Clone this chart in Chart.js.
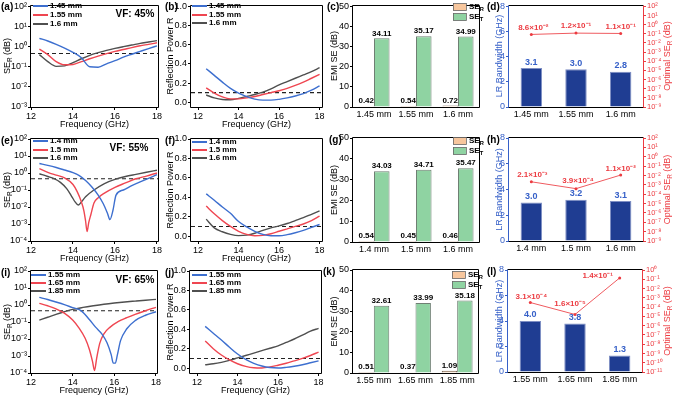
<!DOCTYPE html>
<html>
<head>
<meta charset="utf-8">
<script src="https://cdn.jsdelivr.net/npm/chart.js@4.4.0/dist/chart.umd.min.js"></script>
<style>
  html, body { margin: 0; padding: 0; background: #fff; }
  #wrap { position: relative; width: 673px; height: 396px; overflow: hidden; }
  #wrap canvas { position: absolute; left: 0; top: 0; }
</style>
</head>
<body>
<div id="wrap"></div>
<script>
// ---------- data ----------
const freqTicks = [12, 14, 16, 18];
const rTicks = [0, 0.2, 0.4, 0.6, 0.8, 1.0];
const emiTicks = [0, 10, 20, 30, 40, 50];
const bwTicks = [0, 2, 4, 6, 8];
const seThreshold = 0.458;   // SE_R that matches R = 0.1
const rThreshold = 0.1;

const fGrid = [12.4, 12.8, 13.2, 13.6, 14.0, 14.4, 14.8, 15.2, 15.6, 16.0, 16.4, 16.8, 17.2, 17.6, 18.0];

// VF 45 %
const labels45 = ['1.45 mm', '1.55 mm', '1.6 mm'];
const se45_145 = [2.6, 1.9, 1.3, 0.85, 0.52, 0.28, 0.1, 0.095, 0.14, 0.2, 0.3, 0.42, 0.58, 0.8, 1.1];
const se45_155 = [0.75, 0.4, 0.18, 0.125, 0.13, 0.18, 0.25, 0.34, 0.45, 0.58, 0.72, 0.9, 1.1, 1.3, 1.55];
const se45_160 = [0.4, 0.18, 0.105, 0.11, 0.16, 0.25, 0.37, 0.5, 0.65, 0.82, 1.0, 1.2, 1.45, 1.7, 2.0];
const r45_145 = [0.35, 0.28, 0.21, 0.145, 0.095, 0.058, 0.032, 0.022, 0.022, 0.03, 0.045, 0.065, 0.09, 0.125, 0.17];
const r45_155 = [0.15, 0.095, 0.055, 0.035, 0.035, 0.045, 0.06, 0.08, 0.1, 0.12, 0.145, 0.175, 0.21, 0.25, 0.29];
const r45_160 = [0.075, 0.045, 0.028, 0.025, 0.04, 0.06, 0.08, 0.105, 0.14, 0.18, 0.215, 0.25, 0.285, 0.32, 0.36];
const serBar45 = [0.42, 0.54, 0.72];
const setBar45 = [34.11, 35.17, 34.99];
const bw45 = [3.1, 3.0, 2.8];
const opt45 = [8.6e-2, 1.2e-1, 1.1e-1];

// VF 55 %
const labels55 = ['1.4 mm', '1.5 mm', '1.6 mm'];
const f55_14 = [12.4, 12.8, 13.2, 13.6, 14.0, 14.3, 14.6, 14.9, 15.2, 15.45, 15.65, 15.76, 15.9, 16.05, 16.4, 16.8, 17.2, 17.6, 18.0];
const se55_14 = [3.6, 2.8, 2.1, 1.5, 1.05, 0.7, 0.36, 0.15, 0.05, 0.015, 0.004, 0.0018, 0.006, 0.05, 0.1, 0.18, 0.3, 0.48, 0.8];
const f55_15 = [12.4, 12.8, 13.2, 13.6, 14.0, 14.2, 14.4, 14.52, 14.6, 14.67, 14.75, 14.85, 15.0, 15.2, 15.5, 16.0, 16.5, 17.0, 17.5, 18.0];
const se55_15 = [1.8, 1.1, 0.75, 0.52, 0.21, 0.08, 0.02, 0.006, 0.0015, 0.00036, 0.0012, 0.0035, 0.017, 0.035, 0.066, 0.145, 0.26, 0.46, 0.66, 1.0];
const f55_16 = [12.4, 12.8, 13.1, 13.4, 13.7, 13.95, 14.1, 14.25, 14.4, 14.6, 15.0, 15.5, 16.0, 16.5, 17.0, 17.5, 18.0];
const se55_16 = [0.9, 0.62, 0.46, 0.28, 0.12, 0.04, 0.02, 0.013, 0.02, 0.04, 0.1, 0.24, 0.42, 0.62, 0.83, 1.1, 1.45];
const r55_14 = [0.435, 0.37, 0.3, 0.235, 0.15, 0.095, 0.05, 0.018, 0.004, 0.004, 0.015, 0.035, 0.06, 0.09, 0.12];
const r55_15 = [0.31, 0.23, 0.16, 0.1, 0.05, 0.018, 0.004, 0.008, 0.025, 0.05, 0.075, 0.1, 0.125, 0.16, 0.205];
const r55_16 = [0.175, 0.085, 0.045, 0.018, 0.005, 0.01, 0.03, 0.06, 0.085, 0.105, 0.13, 0.16, 0.19, 0.225, 0.26];
const serBar55 = [0.54, 0.45, 0.46];
const setBar55 = [34.03, 34.71, 35.47];
const bw55 = [3.0, 3.2, 3.1];
const opt55 = [2.1e-3, 3.9e-4, 1.1e-2];

// VF 65 %
const labels65 = ['1.55 mm', '1.65 mm', '1.85 mm'];
const f65_155 = [12.4, 12.8, 13.2, 13.6, 14.0, 14.4, 14.8, 15.1, 15.4, 15.65, 15.85, 15.95, 16.05, 16.15, 16.3, 16.6, 17.0, 17.5, 18.0];
const se65_155 = [2.8, 2.1, 1.5, 1.05, 0.7, 0.47, 0.14, 0.05, 0.02, 0.006, 0.0012, 0.00038, 0.00038, 0.0012, 0.008, 0.04, 0.12, 0.25, 0.4];
const f65_165 = [12.4, 12.8, 13.2, 13.6, 14.0, 14.3, 14.6, 14.8, 14.95, 15.05, 15.15, 15.3, 15.5, 15.8, 16.2, 16.6, 17.0, 17.5, 18.0];
const se65_165 = [1.25, 0.9, 0.6, 0.33, 0.13, 0.045, 0.011, 0.0025, 0.0005, 0.00014, 0.0007, 0.0055, 0.02, 0.05, 0.11, 0.18, 0.28, 0.46, 0.73];
const f65_185 = [12.4, 12.8, 13.2, 13.6, 14.0, 14.5, 15.0, 15.5, 16.0, 16.5, 17.0, 17.5, 18.0];
const se65_185 = [0.13, 0.19, 0.28, 0.4, 0.55, 0.72, 0.9, 1.1, 1.3, 1.5, 1.7, 1.92, 2.15];
const r65_155 = [0.43, 0.36, 0.29, 0.215, 0.145, 0.09, 0.05, 0.022, 0.006, 0.001, 0.008, 0.02, 0.035, 0.055, 0.075];
const r65_165 = [0.28, 0.2, 0.135, 0.085, 0.045, 0.018, 0.004, 0.002, 0.012, 0.03, 0.05, 0.075, 0.1, 0.13, 0.165];
const r65_185 = [0.035, 0.045, 0.06, 0.08, 0.105, 0.13, 0.155, 0.18, 0.205, 0.23, 0.265, 0.3, 0.34, 0.38, 0.41];
const serBar65 = [0.51, 0.37, 1.09];
const setBar65 = [32.61, 33.99, 35.18];
const bw65 = [4.0, 3.8, 1.3];
const opt65 = [3.1e-4, 1.6e-5, 1.4e-1];

// ---------- helpers ----------
const W = 673, H = 396;
const XH = 14, YW = 26, RW = 30;
const FONT = "'Liberation Sans', Arial, sans-serif";
const LINE_COLORS = ['#3d6fcf', '#ef4651', '#4f4f4f'];

const SUP = {'0': '⁰', '1': '¹', '2': '²', '3': '³', '4': '⁴', '5': '⁵', '6': '⁶', '7': '⁷', '8': '⁸', '9': '⁹', '-': '⁻'};
const sup = n => String(n).split('').map(c => SUP[c]).join('');
const pow10 = v => '10' + sup(Math.round(Math.log10(v)));
const sci = v => {
  const e = Math.floor(Math.log10(v) + 1e-9);
  return (v / Math.pow(10, e)).toFixed(1) + '×10' + sup(e);
};
const decades = (lo, hi) => { const t = []; for (let e = hi; e >= lo; e--) t.push({value: Math.pow(10, e)}); return t; };

// "SE_{R} (dB)" -> pieces with subscript / superscript
function parseRich(str) {
  const out = [], re = /([_^])\{([^}]*)\}|([^_^]+)/g;
  let m;
  while ((m = re.exec(str))) out.push(m[3] ? {t: m[3], k: ''} : {t: m[2], k: m[1]});
  return out;
}
function drawRich(ctx, o) {
  const size = o.size || 9, weight = o.bold ? 'bold ' : '';
  const parts = parseRich(o.text);
  const fontFor = k => weight + (k ? size * 0.72 : size) + 'px ' + FONT;
  let w = 0;
  parts.forEach(p => { ctx.font = fontFor(p.k); p.w = ctx.measureText(p.t).width; w += p.w; });
  ctx.save();
  ctx.translate(o.x, o.y);
  if (o.rot) ctx.rotate(o.rot);
  ctx.fillStyle = o.color || '#000';
  ctx.textBaseline = 'middle';
  let x = o.align === 'left' ? 0 : o.align === 'right' ? -w : -w / 2;
  parts.forEach(p => {
    ctx.font = fontFor(p.k);
    const dy = p.k === '_' ? size * 0.3 : p.k === '^' ? -size * 0.35 : 0;
    ctx.fillText(p.t, x, dy);
    x += p.w;
  });
  ctx.restore();
}

const decor = {
  id: 'decor',
  afterDatasetsDraw(chart) {
    const ctx = chart.ctx;
    chart.data.datasets.forEach((ds, i) => {
      if (!ds.valueFmt) return;
      chart.getDatasetMeta(i).data.forEach((el, j) => {
        const off = (ds.valueOffsets || [])[j] || [0, -5];
        drawRich(ctx, {text: ds.valueFmt(ds.data[j]), x: el.x + off[0], y: el.y + off[1],
          size: ds.valueSize || 8, bold: true, color: ds.valueColor || '#000'});
      });
    });
  },
  afterDraw(chart, args, o) {
    const ctx = chart.ctx, a = chart.chartArea;
    const fr = Object.assign({left: '#000', right: '#000', top: '#000', bottom: '#000'}, o.frame || {});
    const L = Math.round(a.left) - 0.5, R = Math.round(a.right) + 0.5, T = Math.round(a.top) - 0.5, B = Math.round(a.bottom) + 0.5;
    ctx.save();
    ctx.lineWidth = 1;
    const seg = (x1, y1, x2, y2, c) => { ctx.strokeStyle = c; ctx.beginPath(); ctx.moveTo(x1, y1); ctx.lineTo(x2, y2); ctx.stroke(); };
    seg(L, T, R, T, fr.top);
    seg(L, B, R, B, fr.bottom);
    seg(L, T, L, B, fr.left);
    seg(R, T, R, B, fr.right);
    ctx.restore();

    const lg = o.legend;
    if (lg) {
      let k = 0;
      chart.data.datasets.forEach(ds => {
        if (!ds.legendText) return;
        const y = lg.ys[k++];
        ctx.save();
        if (lg.kind === 'box') {
          ctx.fillStyle = ds.backgroundColor;
          ctx.fillRect(lg.x, y - 3.5, 13, 7);
          ctx.strokeStyle = '#666';
          ctx.lineWidth = 0.8;
          ctx.strokeRect(lg.x + 0.5, y - 3.5, 13, 7);
          ctx.restore();
          drawRich(ctx, {text: ds.legendText, x: lg.x + 16, y: y, size: 8, bold: true, align: 'left'});
        } else {
          ctx.strokeStyle = ds.borderColor;
          ctx.lineWidth = 2;
          ctx.beginPath(); ctx.moveTo(lg.x, y); ctx.lineTo(lg.x + lg.len, y); ctx.stroke();
          ctx.restore();
          drawRich(ctx, {text: ds.legendText, x: lg.x + lg.len + 2, y: y, size: 8, bold: true, align: 'left'});
        }
      });
    }
    (o.texts || []).forEach(t => drawRich(ctx, t));
  }
};
Chart.register(decor);

function newCtx() {
  const c = document.createElement('canvas');
  c.width = W; c.height = H;
  document.getElementById('wrap').appendChild(c);
  return c.getContext('2d');
}
function padFor(rect, rightW) {
  return {left: rect[0] - YW, top: rect[1], right: W - rect[2] - (rightW || 0), bottom: H - rect[3] - XH};
}
const tickGrid = c => ({drawOnChartArea: false, drawTicks: true, tickLength: 3, color: c || '#000', lineWidth: 1});
const noGrid = {display: false, drawTicks: false, tickLength: 0};
const baseOpts = {responsive: false, animation: false, devicePixelRatio: 1, events: []};

function panelTexts(p) {
  const [l, t, r, b] = p.rect;
  const out = [
    {text: p.tag, x: p.tagX, y: t + 2, size: 10, bold: true, align: 'left'},
    {text: p.yTitle, x: p.yTitleX, y: (t + b) / 2, size: 9, rot: -Math.PI / 2, color: p.yTitleColor}
  ];
  if (p.xTitle) out.push({text: p.xTitle, x: (l + r) / 2, y: b + 18, size: 9});
  return out.concat(p.extra || []);
}

function linePanel(p) {
  const datasets = p.series.map((s, i) => ({
    legendText: p.names[i],
    data: s.x.map((x, j) => ({x: x, y: s.y[j]})),
    borderColor: LINE_COLORS[i], borderWidth: 1.4, pointRadius: 0,
    cubicInterpolationMode: 'monotone', fill: false
  }));
  datasets.push({
    data: [{x: p.xMin, y: p.thr}, {x: p.xMax, y: p.thr}],
    borderColor: '#222', borderWidth: 1.1, borderDash: [4, 3], pointRadius: 0
  });
  new Chart(newCtx(), {
    type: 'line',
    data: {datasets: datasets},
    options: Object.assign({}, baseOpts, {
      layout: {padding: padFor(p.rect)},
      plugins: {legend: {display: false}, tooltip: {enabled: false},
        decor: {legend: {kind: 'line', x: p.legend[0], len: 15, ys: p.legend.slice(1)}, texts: panelTexts(p)}},
      scales: {
        x: {type: 'linear', min: p.xMin, max: p.xMax,
          afterBuildTicks: s => { s.ticks = freqTicks.map(v => ({value: v})); },
          afterFit: s => { s.height = XH; },
          ticks: {font: {family: FONT, size: 9}, color: '#000', padding: 1, maxRotation: 0, autoSkip: false},
          grid: tickGrid(), border: {display: false}},
        y: {type: p.log ? 'logarithmic' : 'linear', min: p.yMin, max: p.yMax,
          afterBuildTicks: s => { s.ticks = p.yTicks; },
          afterFit: s => { s.width = YW; },
          ticks: {font: {family: FONT, size: 9}, color: '#000', padding: 1, autoSkip: false, callback: p.yFmt},
          grid: tickGrid(), border: {display: false}}
      }
    })
  });
}

function barPanel(p) {
  new Chart(newCtx(), {
    type: 'bar',
    data: {
      labels: p.labels,
      datasets: [
        {legendText: 'SE_{R}', data: p.ser, backgroundColor: '#f7c69d', borderColor: '#6d5d50', borderWidth: 1,
          categoryPercentage: 0.74, barPercentage: 1, valueFmt: v => v.toFixed(2)},
        {legendText: 'SE_{T}', data: p.set, backgroundColor: '#8fd3a2', borderColor: '#6f7f73', borderWidth: 1,
          categoryPercentage: 0.74, barPercentage: 1, valueFmt: v => v.toFixed(2)}
      ]
    },
    options: Object.assign({}, baseOpts, {
      layout: {padding: padFor(p.rect)},
      plugins: {legend: {display: false}, tooltip: {enabled: false},
        decor: {legend: {kind: 'box', x: p.legend[0], ys: p.legend.slice(1)}, texts: panelTexts(p)}},
      scales: {
        x: {afterFit: s => { s.height = XH; },
          ticks: {font: {family: FONT, size: 9}, color: '#000', padding: 2, maxRotation: 0, autoSkip: false},
          grid: noGrid, border: {display: false}},
        y: {min: 0, max: 50,
          afterBuildTicks: s => { s.ticks = emiTicks.map(v => ({value: v})); },
          afterFit: s => { s.width = YW; },
          ticks: {font: {family: FONT, size: 9}, color: '#000', padding: 1, autoSkip: false},
          grid: tickGrid(), border: {display: false}}
      }
    })
  });
}

function dualPanel(p) {
  const BL = '#3660c8', RD = '#ec3b41';
  new Chart(newCtx(), {
    type: 'bar',
    data: {
      labels: p.labels,
      datasets: [
        {type: 'line', data: p.opt, yAxisID: 'y2', borderColor: '#ef5a5f', borderWidth: 1,
          pointRadius: 1.5, pointBackgroundColor: RD, pointBorderWidth: 0,
          valueFmt: sci, valueColor: RD, valueSize: 8, valueOffsets: p.ptOff},
        {type: 'bar', data: p.bw, yAxisID: 'y', backgroundColor: '#1f3d92', borderColor: '#7f8fc4', borderWidth: 1,
          categoryPercentage: 0.48, barPercentage: 1,
          valueFmt: v => v.toFixed(1), valueColor: BL, valueSize: 9, valueOffsets: [[0, -6], [0, -6], [0, -6]]}
      ]
    },
    options: Object.assign({}, baseOpts, {
      layout: {padding: padFor(p.rect, RW)},
      plugins: {legend: {display: false}, tooltip: {enabled: false},
        decor: {frame: {left: BL, right: RD}, texts: panelTexts(p).concat([
          {text: 'Optimal SE_{R} (dB)', x: 668, y: (p.rect[1] + p.rect[3]) / 2, size: 9, rot: -Math.PI / 2, color: RD}
        ])}},
      scales: {
        x: {afterFit: s => { s.height = XH; },
          ticks: {font: {family: FONT, size: 9}, color: '#000', padding: 2, maxRotation: 0, autoSkip: false},
          grid: noGrid, border: {display: false}},
        y: {position: 'left', min: 0, max: 8,
          afterBuildTicks: s => { s.ticks = bwTicks.map(v => ({value: v})); },
          afterFit: s => { s.width = YW; },
          ticks: {font: {family: FONT, size: 9}, color: BL, padding: 1, autoSkip: false},
          grid: tickGrid(BL), border: {display: false}},
        y2: {type: 'logarithmic', position: 'right', min: Math.pow(10, p.logLo), max: Math.pow(10, p.logHi),
          afterBuildTicks: s => { s.ticks = decades(p.logLo, p.logHi); },
          afterFit: s => { s.width = RW; },
          ticks: {font: {family: FONT, size: 7.5}, color: RD, padding: 1, autoSkip: false, callback: pow10},
          grid: tickGrid(RD), border: {display: false}}
      }
    })
  });
}

// ---------- row 1 : VF 45 % ----------
linePanel({rect: [31, 5, 158, 107], tag: '(a)', tagX: 1, xTitle: 'Frequency (GHz)', yTitle: 'SE_{R} (dB)', yTitleX: 8,
  log: true, yMin: 1e-3, yMax: 1e2, yTicks: decades(-3, 2), yFmt: pow10, xMin: 12, xMax: 18.05, thr: seThreshold,
  names: labels45, series: [{x: fGrid, y: se45_145}, {x: fGrid, y: se45_155}, {x: fGrid, y: se45_160}],
  legend: [33, 6, 15, 24], extra: [{text: 'VF: 45%', x: 135, y: 14, size: 10, bold: true}]});
linePanel({rect: [191, 5, 322, 107], tag: '(b)', tagX: 165, xTitle: 'Frequency (GHz)', yTitle: 'Reflection Power R', yTitleX: 171,
  log: false, yMin: -0.05, yMax: 1.0, yTicks: rTicks.map(v => ({value: v})), yFmt: v => v.toFixed(1), xMin: 11.65, xMax: 18.12, thr: rThreshold,
  names: labels45, series: [{x: fGrid, y: r45_145}, {x: fGrid, y: r45_155}, {x: fGrid, y: r45_160}],
  legend: [192, 6, 15, 23]});
barPanel({rect: [353, 5, 479, 107], tag: '(c)', tagX: 327, yTitle: 'EMI SE (dB)', yTitleX: 335,
  labels: labels45, ser: serBar45, set: setBar45, legend: [453, 7, 17]});
dualPanel({rect: [509, 5, 643, 107], tag: '(d)', tagX: 487, yTitle: 'LR Bandwidth (GHz)', yTitleX: 500, yTitleColor: '#3660c8',
  labels: labels45, bw: bw45, opt: opt45, logLo: -9, logHi: 2, ptOff: [[2, -7], [0, -7], [0, -7]]});

// ---------- row 2 : VF 55 % ----------
linePanel({rect: [31, 139, 158, 241], tag: '(e)', tagX: 1, xTitle: 'Frequency (GHz)', yTitle: 'SE_{R} (dB)', yTitleX: 8,
  log: true, yMin: 1e-4, yMax: 1e2, yTicks: decades(-4, 2), yFmt: pow10, xMin: 12, xMax: 18.05, thr: seThreshold,
  names: labels55, series: [{x: f55_14, y: se55_14}, {x: f55_15, y: se55_15}, {x: f55_16, y: se55_16}],
  legend: [33, 141, 150, 158], extra: [{text: 'VF: 55%', x: 129, y: 148, size: 10, bold: true}]});
linePanel({rect: [191, 139, 322, 241], tag: '(f)', tagX: 165, xTitle: 'Frequency (GHz)', yTitle: 'Reflection Power R', yTitleX: 171,
  log: false, yMin: -0.05, yMax: 1.0, yTicks: rTicks.map(v => ({value: v})), yFmt: v => v.toFixed(1), xMin: 11.65, xMax: 18.12, thr: rThreshold,
  names: labels55, series: [{x: fGrid, y: r55_14}, {x: fGrid, y: r55_15}, {x: fGrid, y: r55_16}],
  legend: [192, 142, 150, 158]});
barPanel({rect: [353, 138, 479, 242], tag: '(g)', tagX: 329, yTitle: 'EMI SE (dB)', yTitleX: 335,
  labels: labels55, ser: serBar55, set: setBar55, legend: [453, 141, 151]});
dualPanel({rect: [509, 138, 643, 241], tag: '(h)', tagX: 487, yTitle: 'LR Bandwidth (GHz)', yTitleX: 500, yTitleColor: '#3660c8',
  labels: labels55, bw: bw55, opt: opt55, logLo: -9, logHi: 2, ptOff: [[1, -7], [2, -8], [0, -6]]});

// ---------- row 3 : VF 65 % ----------
linePanel({rect: [31, 271, 157, 373], tag: '(i)', tagX: 1, xTitle: 'Frequency (GHz)', yTitle: 'SE_{R} (dB)', yTitleX: 8,
  log: true, yMin: 1e-4, yMax: 1e2, yTicks: decades(-4, 2), yFmt: pow10, xMin: 12, xMax: 18.05, thr: seThreshold,
  names: labels65, series: [{x: f65_155, y: se65_155}, {x: f65_165, y: se65_165}, {x: f65_185, y: se65_185}],
  legend: [31, 275, 283, 291], extra: [{text: 'VF: 65%', x: 135, y: 280, size: 10, bold: true}]});
linePanel({rect: [190, 271, 321, 373], tag: '(j)', tagX: 165, xTitle: 'Frequency (GHz)', yTitle: 'Reflection Power R', yTitleX: 171,
  log: false, yMin: -0.05, yMax: 1.0, yTicks: rTicks.map(v => ({value: v})), yFmt: v => v.toFixed(1), xMin: 11.65, xMax: 18.12, thr: rThreshold,
  names: labels65, series: [{x: fGrid, y: r65_155}, {x: fGrid, y: r65_165}, {x: fGrid, y: r65_185}],
  legend: [192, 275, 283, 291]});
barPanel({rect: [353, 270, 478, 373], tag: '(k)', tagX: 323, yTitle: 'EMI SE (dB)', yTitleX: 335,
  labels: labels65, ser: serBar65, set: setBar65, legend: [452, 275, 285]});
dualPanel({rect: [508, 270, 642, 372], tag: '(l)', tagX: 487, yTitle: 'LR Bandwidth (GHz)', yTitleX: 500, yTitleColor: '#3660c8',
  labels: labels65, bw: bw65, opt: opt65, logLo: -11, logHi: 0, ptOff: [[1, -6], [-5, -11], [-22, -2]]});
</script>
</body>
</html>
